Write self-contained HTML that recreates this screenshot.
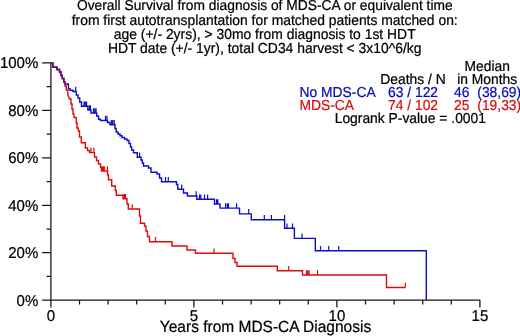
<!DOCTYPE html>
<html><head><meta charset="utf-8"><title>Overall Survival</title>
<style>
html,body{margin:0;padding:0;background:#fff;}
body{width:520px;height:336px;overflow:hidden;}
svg{display:block;will-change:transform;text-rendering:geometricPrecision;stroke:#000;stroke-width:0.22px;font-family:"Liberation Sans",Arial,Helvetica,sans-serif;fill:#000;}
.t{font-size:13.9px;text-anchor:middle}
.a{font-size:15px}
.l{font-size:13.85px}
</style></head><body>
<svg width="520" height="336" viewBox="0 0 520 336">
<rect width="520" height="336" fill="#fff" stroke="none"/>
<g class="t">
<text transform="translate(264.8,10.4) scale(1,1.045)" style="font-size:13.8px">Overall Survival from diagnosis of MDS-CA or equivalent time</text>
<text transform="translate(264.7,24.7) scale(1,1.045)">from first autotransplantation for matched patients matched on:</text>
<text transform="translate(264.7,38.8) scale(1,1.045)">age (+/- 2yrs), &gt; 30mo from diagnosis to 1st HDT</text>
<text transform="translate(264.7,53) scale(1,1.045)">HDT date (+/- 1yr), total CD34 harvest &lt; 3x10^6/kg</text>
</g>
<g class="a" text-anchor="end">
<text transform="translate(38.3,68.3) scale(1,1.045)">100%</text>
<text transform="translate(38.3,115.8) scale(1,1.045)">80%</text>
<text transform="translate(38.3,163.2) scale(1,1.045)">60%</text>
<text transform="translate(38.3,210.7) scale(1,1.045)">40%</text>
<text transform="translate(38.3,258.1) scale(1,1.045)">20%</text>
<text transform="translate(38.3,305.9) scale(1,1.045)">0%</text>
</g>
<g class="a" text-anchor="middle">
<text transform="translate(50.9,321) scale(1,1.045)">0</text>
<text transform="translate(193.9,321) scale(1,1.045)">5</text>
<text transform="translate(336.9,321) scale(1,1.045)">10</text>
<text transform="translate(479.9,321) scale(1,1.045)">15</text>
<text transform="translate(265.5,332) scale(1,1.045)" style="font-size:15.5px">Years from MDS-CA Diagnosis</text>
</g>
<g class="l">
<text transform="translate(487.2,70.7) scale(1,1.045)" text-anchor="middle">Median</text>
<text transform="translate(380.3,83.6) scale(1,1.045)">Deaths / N</text>
<text transform="translate(457.2,83.6) scale(1,1.045)">in Months</text>
<g fill="#0a0ab8" stroke="#0a0ab8">
<text transform="translate(299.5,96.7) scale(1,1.045)">No MDS-CA</text>
<text transform="translate(388,96.7) scale(1,1.045)">63 / 122</text>
<text transform="translate(454,96.7) scale(1,1.045)">46</text>
<text transform="translate(477.3,96.7) scale(1,1.045)">(38,69)</text>
</g>
<g fill="#d41010" stroke="#d41010">
<text transform="translate(299.5,109.8) scale(1,1.045)">MDS-CA</text>
<text transform="translate(388,109.8) scale(1,1.045)">74 / 102</text>
<text transform="translate(454,109.8) scale(1,1.045)">25</text>
<text transform="translate(477.3,109.8) scale(1,1.045)">(19,33)</text>
</g>
<text transform="translate(334.7,122.9) scale(1,1.045)">Logrank P-value = .0001</text>
</g>
<g fill="none" stroke-linejoin="miter">
<path d="M50.9,62.4V300.2M42.099999999999994,300.2H480.4 M50.9,300.20h-8.8 M50.9,276.47h-4.3 M50.9,252.74h-8.8 M50.9,229.01h-4.3 M50.9,205.28h-8.8 M50.9,181.55h-4.3 M50.9,157.82h-8.8 M50.9,134.09h-4.3 M50.9,110.36h-8.8 M50.9,86.63h-4.3 M50.9,62.90h-8.8 M50.90,300.2v7.3 M79.50,300.2v4.4 M108.10,300.2v4.4 M136.70,300.2v4.4 M165.30,300.2v4.4 M193.90,300.2v7.3 M222.50,300.2v4.4 M251.10,300.2v4.4 M279.70,300.2v4.4 M308.30,300.2v4.4 M336.90,300.2v7.3 M365.50,300.2v4.4 M394.10,300.2v4.4 M422.70,300.2v4.4 M451.30,300.2v4.4 M479.90,300.2v7.3" stroke="#141414" stroke-width="1.25"/>
<polyline points="51,62.9 52.8,62.9 52.8,67.3 57,67.3 57,69.5 59.5,69.5 59.5,72 61,72 61,75.5 62.3,75.5 62.3,78.5 63.8,78.5 63.8,82 65,82 65,84 68.4,84 68.4,88.6 70,88.6 70,90.3 73,90.3 73,91.5 76.3,91.5 76.3,95 78,95 78,98 79.7,98 79.7,102 81.5,102 81.5,106.2 87.8,106.2 87.8,110 91,110 91,113 96.7,113 96.7,116 98.5,116 98.5,119.3 100.5,119.3 100.5,120.5 107.5,120.5 107.5,122.5 110,122.5 110,124.7 115,124.7 115,128.5 116.2,128.5 116.2,132 118,132 118,134 120,134 120,135.8 122,135.8 122,137.5 124.5,137.5 124.5,139 127,139 127,140.5 129,140.5 129,143.5 130.5,143.5 130.5,147 131.7,147 131.7,150 133.5,150 133.5,152.7 137.3,152.7 137.3,157.2 141,157.2 141,160 142.3,160 142.3,163 143.5,163 143.5,166 148.5,166 148.5,168 151,168 151,172.3 157,172.3 157,174 159.5,174 159.5,178 161.5,178 161.5,181.8 176.5,181.8 176.5,184.5 177.8,184.5 177.8,189.2 183.5,189.2 183.5,193 187.4,193 187.4,196 196.8,196 196.8,199.3 214.5,199.3 214.5,204 220,204 220,208.1 239.5,208.1 239.5,213.9 251.3,213.9 251.3,219.7 284.6,219.7 284.6,228.2 294.4,228.2 294.4,238.4 315.3,238.4 315.3,250.8 426.3,250.8 426.3,300" stroke="#0c0ccc" stroke-width="1.4"/>
<path d="M75.7,91.5v-4.8 M84,106.2v-4.8 M85.3,106.2v-4.8 M86.6,106.2v-4.8 M89.2,110v-4.8 M90.4,110v-4.8 M93.5,113v-4.8 M94.8,113v-4.8 M96.1,113v-4.8 M105.5,120.5v-4.8 M107,120.5v-4.8 M111.3,124.7v-4.8 M112.7,124.7v-4.8 M114.2,124.7v-4.8 M139.6,157.2v-4.8 M165.5,181.8v-4.8 M168.3,181.8v-4.8 M181.7,189.2v-4.8 M196.2,196v-4.8 M199.5,199.3v-4.8 M200.8,199.3v-4.8 M204.5,199.3v-4.8 M207.6,199.3v-4.8 M216.6,204v-4.8 M217.8,204v-4.8 M225.6,208.1v-4.8 M227.4,208.1v-4.8 M228.5,208.1v-4.8 M236.6,208.1v-4.8 M248.7,213.9v-4.8 M264.3,219.7v-4.8 M271.4,219.7v-4.8 M284.6,219.7v-4.8 M287,228.2v-4.8 M292.5,228.2v-4.8 M302,238.4v-4.8 M320.5,250.8v-4.8 M328.7,250.8v-4.8 M338.7,250.8v-4.8" stroke="#0c0ccc" stroke-width="1.2"/>
<polyline points="51,62.9 52.8,62.9 52.8,67.3 57,67.3 57,69.5 59.5,69.5 59.5,72 61,72 61,75.5 62.3,75.5 62.3,78.5 63.8,78.5 63.8,82 65,82 65,86 66.3,86 66.3,90 67.8,90 67.8,94.5 69.5,99 71,99 71,104 72,104 72,109 73,109 73,114 74,114 74,117.5 76.3,117.5 76.3,123 77,123 77,128 78.3,128 78.3,131 79.5,131 79.5,137 81.3,137 81.3,142.7 85.3,142.7 85.3,148 87.5,148 87.5,150.5 89.5,150.5 89.5,152.6 94.5,152.6 94.5,157 96.5,157 96.5,160.5 98.5,160.5 98.5,164 100.5,164 100.5,167.5 101.5,167.5 101.5,171 107.5,171 107.5,175 108.5,175 108.5,179.8 111.7,179.8 111.7,186 115.3,186 115.3,190.5 116.3,190.5 116.3,195.3 123,195.3 123,198.8 127,198.8 127,204 128.3,204 128.3,209 139.5,209 139.5,216 140.5,216 140.5,223.3 144.5,223.3 144.5,226 146,226 146,231 147.5,231 147.5,236.5 149.5,236.5 149.5,241.7 172,241.7 172,246 187,246 187,250 195.5,250 195.5,253.3 233,253.3 233,258.5 235,258.5 235,262.5 237,262.5 237,266.3 277.3,266.3 277.3,270.7 302.5,270.7 302.5,275 386.5,275 386.5,287.5 405.3,287.5" stroke="#dc0c0c" stroke-width="1.4"/>
<path d="M91,152.6v-4.8 M93.8,152.6v-4.8 M102.3,171v-4.8 M103.3,171v-4.8 M104.3,171v-4.8 M107.4,171v-4.8 M123.8,198.8v-4.8 M124.7,198.8v-4.8 M125.6,198.8v-4.8 M132.3,209v-4.8 M155.5,241.7v-4.8 M214,253.3v-4.8 M288.7,270.7v-4.8 M306.5,275v-4.8 M307.8,275v-4.8 M309,275v-4.8 M317.5,275v-4.8 M405.3,287.5v-4.8" stroke="#dc0c0c" stroke-width="1.2"/>
<polyline points="51,62.9 52.8,62.9 52.8,67.3 57,67.3 57,69.5 59.5,69.5 59.5,72 61,72 61,75.5 62.3,75.5 62.3,78.5 63.8,78.5 63.8,82 65,82 65,84" stroke="#0c0ccc" stroke-width="1.4" opacity="0.55"/>
</g>
</svg>
</body></html>
